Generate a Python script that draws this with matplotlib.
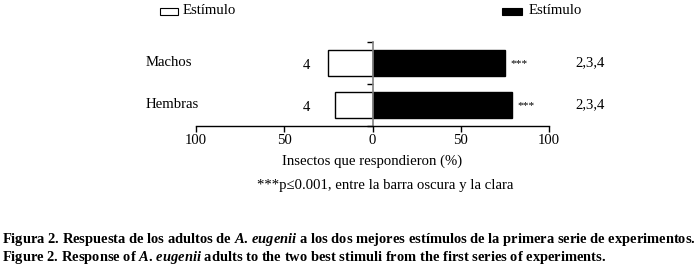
import matplotlib
matplotlib.use("Agg")
from matplotlib import pyplot as plt
from matplotlib.patches import Rectangle

# datos
grupos = ["Hembras", "Machos"]
blanco = [21, 25]      # estímulo (barra clara)
negro = [79, 75]       # estímulo (barra oscura)
n_lado = ["4", "4"]
sig = ["***", "***"]
letras = ["2,3,4", "2,3,4"]

plt.rcParams['font.family'] = ['Liberation Serif', 'DejaVu Serif']
plt.rcParams['mathtext.fontset'] = 'custom'
plt.rcParams['mathtext.it'] = 'Liberation Serif:italic:bold'
plt.rcParams['mathtext.rm'] = 'Liberation Serif:bold'
fs = 10.6

fig = plt.figure(figsize=(6.98, 2.69), dpi=100)
ax = fig.add_axes([196/698, 1-126/269, 353/698, 84/269])

y = [0.5, 1.5]
ax.barh(y, [-v for v in blanco], height=0.64, color='white', edgecolor='black', linewidth=1)
ax.barh(y, negro, height=0.64, color='black', edgecolor='black', linewidth=1)

for i in range(len(grupos)):
    ax.text(-128.5, y[i], grupos[i], ha='left', va='center', fontsize=fs, clip_on=False)
    ax.text(-37.5, y[i] - 0.05, n_lado[i], ha='center', va='center', fontsize=fs, clip_on=False)
    ax.text(negro[i] + 3, y[i] - 0.02, sig[i], ha='left', va='center', fontsize=8.2, clip_on=False)
    ax.text(123.5, y[i], letras[i], ha='center', va='center', fontsize=fs, clip_on=False)

ax.set_xlim(-100, 100)
ax.set_ylim(0, 2)
ax.set_xticks([-100, -50, 0, 50, 100])
ax.set_xticklabels(["100", "50", "0", "50", "100"], fontsize=fs)
ax.set_yticks([0, 1, 2])
ax.set_yticklabels([])
ax.tick_params(axis='x', length=4, width=1, pad=2)
ax.tick_params(axis='y', length=4, width=1, color='black')
ax.spines['left'].set_position(('data', 0))
ax.spines['left'].set_color('#808080')
ax.spines['left'].set_linewidth(1.2)
ax.spines['right'].set_visible(False)
ax.spines['top'].set_visible(False)
ax.spines['bottom'].set_linewidth(1)
ax.set_xlabel("Insectos que respondieron (%)", fontsize=fs, labelpad=5)

fig.text(385/698, 1-186/269, "***p\u22640.001, entre la barra oscura y la clara",
         ha='center', va='center', fontsize=fs)

# leyenda
fig.patches.append(Rectangle((160/698, 1-14.5/269), 18/698, 7/269, facecolor='white',
                             edgecolor='black', linewidth=0.8, transform=fig.transFigure))
fig.patches.append(Rectangle((502/698, 1-15/269), 20/698, 7/269, facecolor='black',
                             edgecolor='black', linewidth=0.8, transform=fig.transFigure))
fig.text(183/698, 1-10/269, "Estímulo", ha='left', va='center', fontsize=fs)
fig.text(529/698, 1-10/269, "Estímulo", ha='left', va='center', fontsize=fs)

# pie de figura
fig.text(2/698, 1-240/269, "Figura 2. Respuesta de los adultos de $\\it{A.\\,eugenii}$ a los dos mejores "
         "estímulos de la primera serie de experimentos.", ha='left', va='center',
         fontsize=10.45, fontweight='bold')
fig.text(2/698, 1-258/269, "Figure 2. Response of $\\it{A.\\,eugenii}$ adults to the two best stimuli "
         "from the first series of experiments.", ha='left', va='center',
         fontsize=10.45, fontweight='bold')

fig.savefig("out.png", dpi=100)
